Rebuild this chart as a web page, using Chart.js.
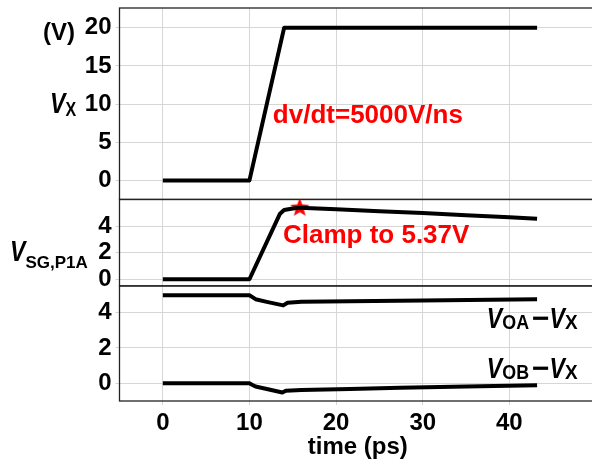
<!DOCTYPE html>
<html>
<head>
<meta charset="utf-8">
<script src="https://cdn.jsdelivr.net/npm/chart.js@4.4.1/dist/chart.umd.min.js"></script>
<style>
  html, body { margin: 0; padding: 0; background: #fff; overflow: hidden; }
  #wrap { width: 600px; height: 466px; }
</style>
</head>
<body>
<div id="wrap"><canvas id="myChart" width="600" height="466"></canvas></div>
<script>
'use strict';

// time axis (ps)
const xTicks = [0, 10, 20, 30, 40];

// V_X (V)
const vxTime = [0, 10, 14, 43.2];
const vxValues = [0, 0, 20, 20];

// V_SG,P1A (V)
const vsgTime = [0, 10, 13.5, 14, 15, 15.8, 20, 25, 30, 35, 40, 43.2];
const vsgValues = [0, 0, 4.9, 5.2, 5.32, 5.37, 5.26, 5.12, 4.98, 4.82, 4.66, 4.55];

// clamp marker (time, V)
const clampTime = [15.8];
const clampValues = [5.37];

// V_OA - V_X (V)
const voaTime = [0, 10, 10.3, 10.7, 12, 13.9, 14.4, 16, 21.6, 30, 43.2];
const voaValues = [4.97, 4.97, 4.88, 4.75, 4.6, 4.4, 4.55, 4.6, 4.64, 4.68, 4.75];

// V_OB - V_X (V)
const vobTime = [0, 10, 10.3, 10.7, 12, 13.8, 14.2, 16, 21.6, 27.4, 35, 43.2];
const vobValues = [0, 0, -0.08, -0.18, -0.32, -0.52, -0.42, -0.38, -0.32, -0.25, -0.18, -0.11];

// y tick labels per panel
const vxTicks = [0, 5, 10, 15, 20];
const vsgTicks = [0, 2, 4];
const vdiffTicks = [0, 2, 4];

const family = '"Liberation Sans", Arial, sans-serif';
const gridColor = '#d6d6d6';

let zip = (xs, ys) => xs.map((x, i) => ({ x: x, y: ys[i] }));

// filled red star used as point style
function starImage(r) {
    let c = document.createElement('canvas');
    c.width = c.height = 2 * r + 2;
    let g = c.getContext('2d');
    g.fillStyle = '#ff0000';
    g.beginPath();
    for (let i = 0; i < 10; i++) {
        let rr = i % 2 ? r * 0.42 : r;
        let a = -Math.PI / 2 + i * Math.PI / 5;
        g.lineTo(r + 1 + rr * Math.cos(a), r + 1 + rr * Math.sin(a));
    }
    g.closePath();
    g.fill();
    return c;
}

// keep the plot area where the reference has it
function noPadding(s) {
    s.paddingTop = 0;
    s.paddingBottom = 0;
    s.paddingLeft = 0;
    s.paddingRight = 0;
}

function yScale(min, max, weight, ticks) {
    return {
        type: 'linear',
        position: 'left',
        stack: 'v',
        stackWeight: weight,
        min: min,
        max: max,
        afterBuildTicks: s => { s.ticks = ticks.map(v => ({ value: v })); },
        afterFit: s => { s.width = 119.5; noPadding(s); },
        grid: { color: gridColor, tickLength: 4, tickColor: gridColor },
        border: { display: false },
        ticks: { color: '#000', padding: 4, autoSkip: false, font: { family: family, size: 24, weight: 'bold' } },
    };
}

let lineSet = (data, axis) => ({
    data: data,
    yAxisID: axis,
    borderColor: '#000',
    borderWidth: 4,
    borderJoinStyle: 'round',
    pointRadius: 0,
    tension: 0,
    fill: false,
});

// panel frames
const frame = {
    id: 'frame',
    beforeDatasetsDraw(chart) {
        let { ctx, chartArea } = chart;
        ctx.save();
        ctx.strokeStyle = '#222';
        ctx.lineWidth = 1.3;
        ['yA', 'yB', 'yC'].forEach(id => {
            let s = chart.scales[id];
            ctx.strokeRect(chartArea.left, s.top, chartArea.right - chartArea.left, s.bottom - s.top);
        });
        ctx.restore();
    }
};

// draw a run of text parts: [text, size, italic, sx, dy, gap]
function drawRich(ctx, x, y, parts, color) {
    ctx.fillStyle = color || '#000';
    ctx.textBaseline = 'alphabetic';
    ctx.textAlign = 'left';
    for (let p of parts) {
        let [text, size, italic, sx, dy, gap] = p;
        ctx.font = (italic ? 'italic ' : '') + 'bold ' + size + 'px ' + family;
        ctx.save();
        ctx.translate(x, y + (dy || 0));
        ctx.scale(sx, 1);
        ctx.fillText(text, 0, 0);
        ctx.restore();
        x += ctx.measureText(text).width * sx + (gap || 0);
    }
}

const labels = {
    id: 'labels',
    afterDraw(chart) {
        let ctx = chart.ctx;
        let sx = chart.scales.x, yA = chart.scales.yA, yB = chart.scales.yB, yC = chart.scales.yC;
        ctx.save();
        // axis titles
        drawRich(ctx, 43, 40, [['(V)', 24, false, 1]]);
        drawRich(ctx, 50, 113, [['V', 30, true, 0.77], ['X', 20, false, 0.8, 3]]);
        drawRich(ctx, 10, 261, [['V', 30, true, 0.77], ['SG,P1A', 17, false, 1, 6.5]]);
        // annotations
        ctx.font = 'bold 26px ' + family;
        ctx.fillStyle = '#ff0000';
        ctx.fillText('dv/dt=5000V/ns', sx.getPixelForValue(12.7), yA.getPixelForValue(7.47));
        ctx.fillText('Clamp to 5.37V', sx.getPixelForValue(13.87), yB.getPixelForValue(2.72));
        let tail = [['\u2212', 30, false, 1], ['V', 30, true, 0.77], ['X', 21, false, 0.9, 1]];
        drawRich(ctx, sx.getPixelForValue(37.4), yC.getPixelForValue(3.12),
            [['V', 30, true, 0.77], ['OA', 21, false, 0.85, 1, 3]].concat(tail));
        drawRich(ctx, sx.getPixelForValue(37.4), yC.getPixelForValue(0.3),
            [['V', 30, true, 0.77], ['OB', 21, false, 0.85, 1, 3]].concat(tail));
        ctx.restore();
    }
};

let ctx = document.getElementById('myChart').getContext('2d');
let myChart = new Chart(ctx, {
    type: 'line',
    data: {
        datasets: [
            lineSet(zip(vxTime, vxValues), 'yA'),
            lineSet(zip(vsgTime, vsgValues), 'yB'),
            lineSet(zip(voaTime, voaValues), 'yC'),
            lineSet(zip(vobTime, vobValues), 'yC'),
            {
                type: 'scatter',
                data: zip(clampTime, clampValues),
                yAxisID: 'yB',
                pointStyle: starImage(10),
                pointRadius: 10,
                showLine: false,
            },
        ]
    },
    options: {
        responsive: false,
        animation: false,
        events: [],
        layout: { autoPadding: false, padding: { top: 8, right: 4, left: 0, bottom: 0 } },
        plugins: { legend: { display: false }, tooltip: { enabled: false } },
        scales: {
            x: {
                type: 'linear',
                min: -5,
                max: 50,
                afterBuildTicks: s => { s.ticks = xTicks.map(v => ({ value: v })); },
                afterFit: s => { s.height = 65; noPadding(s); },
                grid: { color: gridColor, tickLength: 4, tickColor: gridColor },
                border: { display: false },
                ticks: { color: '#000', padding: 4, maxRotation: 0, autoSkip: false, font: { family: family, size: 24, weight: 'bold' } },
                title: {
                    display: true,
                    text: 'time (ps)',
                    color: '#000',
                    padding: { top: 0, bottom: 4 },
                    font: { family: family, size: 24, weight: 'bold' },
                },
            },
            // last defined sits on top of the stack
            yC: yScale(-1, 5.5, 115, vdiffTicks),
            yB: yScale(-0.5, 6, 86.4, vsgTicks),
            yA: yScale(-2.5, 22.6, 191.3, vxTicks),
        }
    },
    plugins: [frame, labels],
});
</script>
</body>
</html>
